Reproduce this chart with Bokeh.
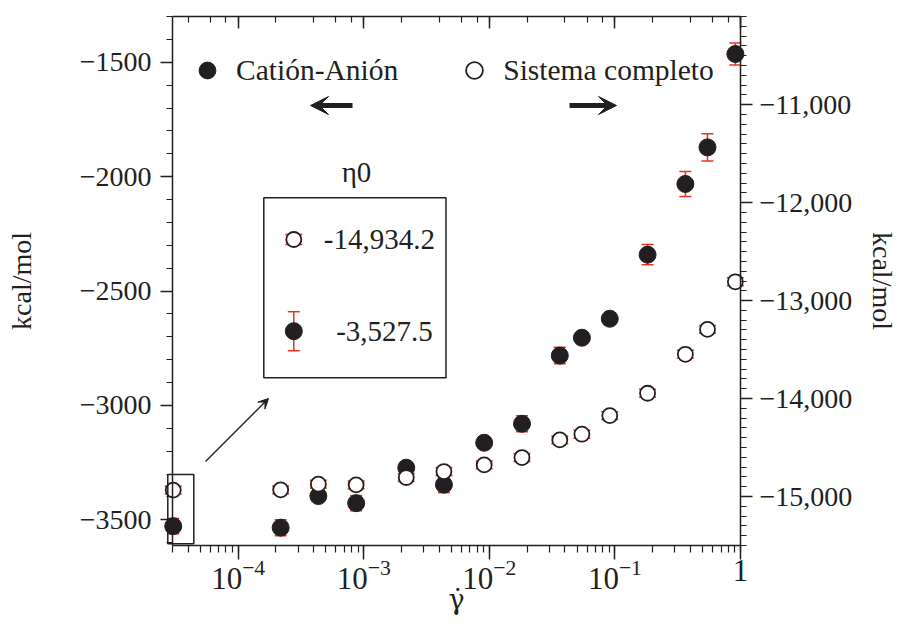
import numpy as np
from bokeh.plotting import figure
from bokeh.models import (ColumnDataSource, Range1d, LogAxis, LinearAxis, FixedTicker,
                          LogTicker, Whisker, TeeHead, BoxAnnotation, Arrow, VeeHead,
                          Label, Legend, LegendItem, Span)
from bokeh.embed import file_html
from bokeh.resources import INLINE

# ---------------- data ----------------
shear_rate = [3.04e-5, 2.18e-4, 4.35e-4, 8.7e-4, 2.18e-3, 4.35e-3, 9.1e-3, 1.82e-2,
              3.64e-2, 5.46e-2, 9.1e-2, 0.182, 0.364, 0.546, 0.91]
cation_anion = [-3527.5, -3534, -3396, -3427, -3272, -3346, -3163, -3080,
                -2782, -2704, -2621, -2341, -2032, -1872, -1464]
cation_anion_err = [33, 35, 20, 33, 20, 35, 20, 35, 36, 20, 20, 44, 55, 60, 48]
sistema_completo = [-14934.2, -14932, -14874, -14881, -14806, -14745, -14677, -14602,
                    -14422, -14364, -14174, -13946, -13548, -13294, -12808]
sistema_completo_err = [40, 40, 40, 40, 40, 40, 40, 40, 40, 40, 40, 40, 40, 40, 40]

eta0_sistema = -14934.2
eta0_cation = -3527.5

left_ticks = [-3500, -3000, -2500, -2000, -1500]
left_tick_labels = ["\u22123500", "\u22123000", "\u22122500", "\u22122000", "\u22121500"]
right_ticks = [-15000, -14000, -13000, -12000, -11000]
right_tick_labels = ["\u221215,000", "\u221214,000", "\u221213,000", "\u221212,000", "\u221211,000"]

series_labels = ["Catión-Anión", "Sistema completo"]

# ---------------- style ----------------
INK = "#231f20"
RED = "#f0301c"
FONT = "Liberation Serif"
FS = "28px"

X0, X1 = 3.0e-5, 1.0            # axis extent (where the frame lines are drawn)
YL0, YL1 = -3612, -1300
YR0, YR1 = -15500, -10100
FL, FR, FT, FB = 172, 740, 16, 545
PAD = 9                         # extra px each side so edge markers are not clipped

LX0, LX1 = np.log10(X0), np.log10(X1)
DEC = (FR - FL) / (LX1 - LX0)
XR0 = float(10 ** (LX0 - PAD / DEC))
XR1 = float(10 ** (LX1 + PAD / DEC))

def px_x(px):
    return float(10 ** (LX0 + (px - FL) / DEC))

def px_y(py):
    return YL1 - (py - FT) / (FB - FT) * (YL1 - YL0)

def px_dy(dpx):
    return dpx / (FB - FT) * (YL1 - YL0)

p = figure(width=903, height=623, x_axis_type="log",
           x_range=Range1d(XR0, XR1), y_range=Range1d(YL0, YL1),
           output_backend="svg", toolbar_location=None,
           min_border_left=FL - PAD, min_border_right=903 - FR - PAD,
           min_border_top=FT, min_border_bottom=623 - FB,
           x_axis_label="γ̇", y_axis_label="kcal/mol")
p.extra_y_ranges = {"right": Range1d(YR0, YR1)}
p.outline_line_color = None
p.xgrid.visible = False
p.ygrid.visible = False
p.background_fill_color = "white"
p.border_fill_color = "white"

def style_axis(ax):
    ax.axis_line_color = INK
    ax.axis_line_width = 1.5
    ax.major_tick_line_color = INK
    ax.minor_tick_line_color = INK
    ax.major_tick_line_width = 1.5
    ax.minor_tick_line_width = 1.2
    ax.major_label_text_font = FONT
    ax.major_label_text_font_size = FS
    ax.major_label_text_color = INK
    ax.axis_label_text_font = FONT
    ax.axis_label_text_font_size = FS
    ax.axis_label_text_font_style = "normal"
    ax.axis_label_text_color = INK

# bottom axis
xa = p.xaxis[0]
style_axis(xa)
xa.bounds = (X0, X1)
xa.major_label_text_font_size = "31px"
xa.axis_label_text_font = "DejaVu Serif"
xa.axis_label_text_font_size = "27px"
xa.major_tick_out = 14
xa.major_tick_in = 0
xa.minor_tick_out = 7
xa.minor_tick_in = 0
xa.major_label_standoff = 0
xa.axis_label_standoff = -8
xa.major_label_overrides = {1: "1"}

# left axis (line drawn by a span at X0; ticks shifted by PAD)
ya = p.yaxis[0]
style_axis(ya)
ya.axis_line_color = None
ya.ticker = FixedTicker(ticks=left_ticks,
                        minor_ticks=list(range(-3600, -1299, 100)))
ya.major_label_overrides = dict(zip(left_ticks, left_tick_labels))
ya.major_tick_out = 12 - PAD
ya.major_tick_in = PAD
ya.minor_tick_out = 6 - PAD
ya.minor_tick_in = PAD
ya.major_label_standoff = 9
ya.axis_label_standoff = 40

# right axis
ra = LinearAxis(y_range_name="right", axis_label="kcal/mol",
                ticker=FixedTicker(ticks=right_ticks,
                                   minor_ticks=list(range(-15500, -10099, 100))))
style_axis(ra)
ra.axis_line_color = None
ra.major_label_overrides = dict(zip(right_ticks, right_tick_labels))
ra.major_tick_out = 12 - PAD
ra.major_tick_in = PAD
ra.minor_tick_out = 6 - PAD
ra.minor_tick_in = PAD
ra.major_label_standoff = 7
ra.axis_label_standoff = 12
p.add_layout(ra, "right")

# top axis (mirror, ticks inward, labels hidden)
ta = LogAxis(ticker=LogTicker(), bounds=(X0, X1))
style_axis(ta)
ta.major_label_text_font_size = "1px"
ta.major_label_text_alpha = 0
ta.major_tick_in = 12
ta.major_tick_out = 0
ta.minor_tick_in = 6
ta.minor_tick_out = 0
ta.major_label_standoff = 0
p.add_layout(ta, "above")

p.add_layout(Span(location=X0, dimension="height", line_color=INK, line_width=1.5))
p.add_layout(Span(location=X1, dimension="height", line_color=INK, line_width=1.5))

# ---------------- data marks ----------------
ca = np.array(cation_anion, dtype=float)
cae = np.array(cation_anion_err, dtype=float)
sc = np.array(sistema_completo, dtype=float)
sce = np.array(sistema_completo_err, dtype=float)

src_f = ColumnDataSource(dict(x=shear_rate, y=ca, lo=ca - cae, hi=ca + cae))
src_o = ColumnDataSource(dict(x=shear_rate, y=sc, lo=sc - sce, hi=sc + sce))

def whisker(src, cap, yname="default"):
    return Whisker(base="x", lower="lo", upper="hi", source=src, dimension="height",
                   line_color=RED, line_width=1.5, level="underlay",
                   y_range_name=yname,
                   upper_head=TeeHead(size=cap, line_color=RED, line_width=1.5),
                   lower_head=TeeHead(size=cap, line_color=RED, line_width=1.5))

p.add_layout(whisker(src_f, 12))
p.add_layout(whisker(src_o, 17, "right"))

r_f = p.scatter("x", "y", source=src_f, size=17, fill_color=INK, line_color=INK)
r_o = p.scatter("x", "y", source=src_o, size=15, fill_color="white",
                line_color=INK, line_width=1.8, y_range_name="right")

legend = Legend(items=[LegendItem(label=series_labels[0], renderers=[r_f]),
                       LegendItem(label=series_labels[1], renderers=[r_o])],
                orientation="horizontal", location=(14 + PAD, 454),
                glyph_width=42, glyph_height=42, label_standoff=8, spacing=55,
                padding=0, margin=0, border_line_color=None,
                background_fill_alpha=0,
                label_text_font=FONT, label_text_font_size="29.5px",
                label_text_color=INK)
p.add_layout(legend)

# ---------------- annotations ----------------
p.add_layout(Arrow(x_start=px_x(352), y_start=px_y(105), x_end=px_x(310), y_end=px_y(105),
                   line_width=5, line_color=INK,
                   end=VeeHead(size=18, fill_color=INK, line_color=INK, line_width=1)))
p.add_layout(Arrow(x_start=px_x(569), y_start=px_y(105), x_end=px_x(616), y_end=px_y(105),
                   line_width=5, line_color=INK,
                   end=VeeHead(size=18, fill_color=INK, line_color=INK, line_width=1)))
p.add_layout(Arrow(x_start=px_x(205), y_start=px_y(461), x_end=px_x(268), y_end=px_y(398),
                   line_width=1.5, line_color=INK,
                   end=VeeHead(size=10, fill_color=INK, line_color=INK, line_width=1)))

p.add_layout(BoxAnnotation(left=px_x(167.3), right=px_x(193.3), top=px_y(474), bottom=px_y(543.3),
                           fill_alpha=0, line_color=INK, line_alpha=1, line_width=1.5))
p.add_layout(BoxAnnotation(left=px_x(263.3), right=px_x(445.5), top=px_y(197.3), bottom=px_y(377.3),
                           fill_alpha=0, line_color=INK, line_alpha=1, line_width=1.5))

p.add_layout(Label(x=px_x(356), y=px_y(171), text="η0", text_align="center",
                   text_baseline="middle", text_font=FONT, text_font_size="29px", text_color=INK))

# inset key
ix = px_x(293.3)
iy_o, iy_f = px_y(239), px_y(330.7)
src_ki_o = ColumnDataSource(dict(x=[ix], y=[iy_o], lo=[iy_o - px_dy(5)], hi=[iy_o + px_dy(5)]))
src_ki_f = ColumnDataSource(dict(x=[ix], y=[iy_f], lo=[iy_f - px_dy(19.5)], hi=[iy_f + px_dy(19.5)]))
p.add_layout(whisker(src_ki_o, 17))
p.add_layout(whisker(src_ki_f, 12))
p.scatter("x", "y", source=src_ki_f, size=17, fill_color=INK, line_color=INK)
p.scatter("x", "y", source=src_ki_o, size=15, fill_color="white", line_color=INK, line_width=1.8)

def fmt(v):
    return "-" + f"{abs(v):,.1f}"

p.add_layout(Label(x=px_x(323.3), y=iy_o, text=fmt(eta0_sistema), text_align="left",
                   text_baseline="middle", text_font=FONT, text_font_size="29px", text_color=INK))
p.add_layout(Label(x=px_x(335.7), y=iy_f, text=fmt(eta0_cation), text_align="left",
                   text_baseline="middle", text_font=FONT, text_font_size="29px", text_color=INK))

open("out.html", "w").write(file_html(p, INLINE))
